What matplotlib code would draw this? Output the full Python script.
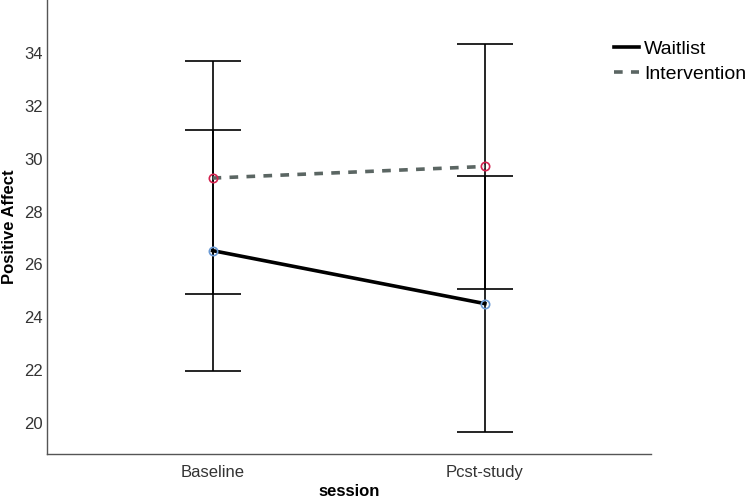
import matplotlib.pyplot as plt
import numpy as np

plt.rcParams['font.family'] = ['Liberation Sans', 'DejaVu Sans']

sessions = ['Baseline', 'Pcst-study']
groups = ['Waitlist', 'Intervention']
waitlist_mean = [26.52, 24.51]
waitlist_low = [21.95, 19.66]
waitlist_high = [31.09, 29.36]
intervention_mean = [29.27, 29.71]
intervention_low = [24.87, 25.05]
intervention_high = [33.69, 34.37]

fig = plt.figure(figsize=(7.49, 4.99), dpi=100)
ax = fig.add_axes([47 / 749, 45 / 499, 604 / 749, 454 / 499])

x = np.arange(len(sessions))

# error bars first so lines and markers sit on top
for mean, low, high in [(waitlist_mean, waitlist_low, waitlist_high),
                        (intervention_mean, intervention_low, intervention_high)]:
	mean = np.array(mean)
	err = [mean - np.array(low), np.array(high) - mean]
	ax.errorbar(x, mean, yerr=err, fmt='none', ecolor='black',
				elinewidth=1.2, capsize=20, capthick=1.2, zorder=2)

ax.plot(x, waitlist_mean, color='black', lw=2.6, label=groups[0], zorder=3)
ax.plot(x, intervention_mean, color='#5b6663', lw=2.6, ls=(0, (2.4, 2.3)),
		label=groups[1], zorder=3)
ax.plot(x, waitlist_mean, 'o', mfc='none', mec='#6b9bd6', ms=6, mew=1.2, zorder=4)
ax.plot(x, intervention_mean, 'o', mfc='none', mec='#d3224e', ms=6, mew=1.2, zorder=4)

ax.set_xlim(-0.608, 1.61)
ax.set_ylim(18.81, 36.02)
ax.set_xticks(x)
ax.set_xticklabels(sessions)
ax.set_yticks(np.arange(20, 35, 2))
ax.tick_params(length=0, labelsize=12, labelcolor='#333333')
ax.tick_params(axis='y', pad=3)
ax.tick_params(axis='x', pad=8)

for side in ['top', 'right']:
	ax.spines[side].set_visible(False)
for side in ['left', 'bottom']:
	ax.spines[side].set_color('#555555')
	ax.spines[side].set_linewidth(1.0)

ax.set_xlabel('session', fontsize=12, fontweight='bold', labelpad=3)
ax.set_ylabel('Positive Affect', fontsize=12, fontweight='bold', labelpad=5)

ax.legend(loc='upper left', bbox_to_anchor=(614 / 749, 1 - 40 / 499),
		  bbox_transform=fig.transFigure, frameon=False, fontsize=14,
		  handlelength=1.3, handletextpad=0.25, labelspacing=0.4,
		  borderpad=0, borderaxespad=0)

fig.savefig('out.png', dpi=100)
